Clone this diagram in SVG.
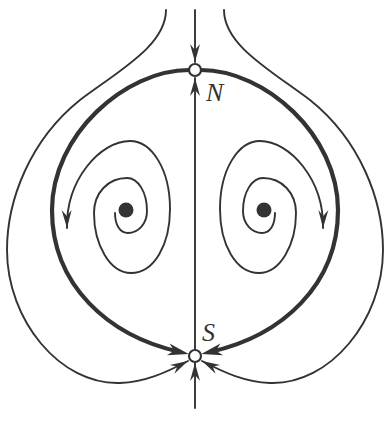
<svg xmlns="http://www.w3.org/2000/svg" width="387" height="421" viewBox="0 0 387 421">
<style>
.thin{fill:none;stroke:#333;stroke-width:1.9;stroke-linecap:round}
.thick{fill:none;stroke:#333;stroke-width:4.2;stroke-linecap:butt}
.pt{fill:#fff;stroke:#333;stroke-width:2.2}
.dot{fill:#333}
.lbl{font-family:"Liberation Serif","DejaVu Serif",serif;font-style:italic;font-size:26px;fill:#333}
</style>
<defs>
<marker id="ah" markerUnits="userSpaceOnUse" markerWidth="22" markerHeight="14" viewBox="-20 -7 22 14" refX="0" refY="0" orient="auto">
<path d="M0,0 L-18,-5 L-12,0 L-18,5 Z" fill="#333"/>
</marker>
<marker id="ahk" markerUnits="userSpaceOnUse" markerWidth="26" markerHeight="16" viewBox="-14 -8 26 16" refX="0" refY="0" orient="auto">
<path d="M9,0 L-12,-6 L-6,0 L-12,6 Z" fill="#333"/>
</marker>
</defs>
<rect width="387" height="421" fill="#fff"/>
<g id="connectors">
<path class="thin" d="M195,10 L195,62" marker-end="url(#ah)"/>
<path class="thin" d="M195,349 L195,78" marker-end="url(#ah)"/>
<path class="thin" d="M195,408 L195,363" marker-end="url(#ah)"/>
<path id="loop-left" class="thick" d="M189,70 C125,70 52,135 52,210 C52,285 108,336 180,352" marker-end="url(#ahk)"/>
<path id="loop-right" class="thick" d="M201,70 C265,70 338,135 338,210 C338,285 282,336 210,352" marker-end="url(#ahk)"/>
<path id="outer-left" class="thin" d="M166,10 C166,45 120,70 80,100 C30,140 7,200 7,250 C7,320 60,385 120,383 C145,382 165,373 188,361" marker-end="url(#ah)"/>
<path id="outer-right" class="thin" d="M224,10 C224,45 270,70 310,100 C360,140 383,200 383,250 C383,320 330,385 270,383 C245,382 225,373 202,361" marker-end="url(#ah)"/>
<path id="spiral-left" class="thin" d="M115,213 C115,225 120,233 128,233 C138,233 147,224 147,211 C147,192 138,178 127,178 C108,178 94,193 94,213 C94,245 110,273 131,273 C154,273 170,245 170,209 C170,170 152,141 130,141 C100,141 66,180 67,228" marker-end="url(#ah)"/>
<path id="spiral-right" class="thin" d="M275,213 C275,225 270,233 262,233 C252,233 243,224 243,211 C243,192 252,178 263,178 C282,178 296,193 296,213 C296,245 280,273 259,273 C236,273 220,245 220,209 C220,170 238,141 260,141 C290,141 324,180 323,228" marker-end="url(#ah)"/>
</g>
<g id="node-N"><circle class="pt" cx="195" cy="70" r="6"/><text class="lbl" x="206" y="101">N</text></g>
<g id="node-S"><circle class="pt" cx="195" cy="356" r="6"/><text class="lbl" x="202" y="341">S</text></g>
<g id="focus-left"><circle class="dot" cx="126" cy="210" r="7.5"/></g>
<g id="focus-right"><circle class="dot" cx="264" cy="210" r="7.5"/></g>
</svg>
